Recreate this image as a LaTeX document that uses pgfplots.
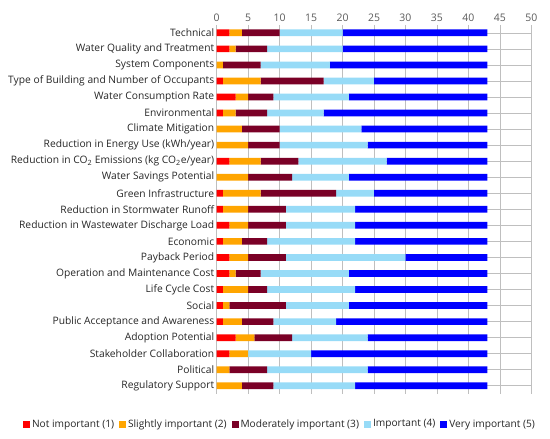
\documentclass[border=0pt]{standalone}
\usepackage{fontspec}
\setmainfont{Open Sans}
\usepackage{pgfplots}
\pgfplotsset{compat=1.18}
\usepackage{pgfplotstable}
\definecolor{cRed}{HTML}{FF0000}
\definecolor{cOrange}{HTML}{FFA500}
\definecolor{cMaroon}{HTML}{7A0026}
\definecolor{cLight}{HTML}{97DBF7}
\definecolor{cBlue}{HTML}{0000FF}
\definecolor{txt}{HTML}{262626}
\definecolor{ticktxt}{HTML}{595959}
\definecolor{grid}{HTML}{D9D9D9}
% idx  not slight moderate important very
\pgfplotstableread{
idx a b c d e
0  2 2 6 10 23
1  2 1 5 12 23
2  0 1 6 11 25
3  1 6 10 8 18
4  3 2 4 12 22
5  1 2 5 9 26
6  0 4 6 13 20
7  0 5 5 14 19
8  2 5 6 14 16
9  0 5 7 9 22
10 1 6 12 6 18
11 1 4 6 11 21
12 2 3 6 11 21
13 1 3 4 14 21
14 2 3 6 19 13
15 2 1 4 14 22
16 1 4 3 14 21
17 1 1 9 10 22
18 1 3 5 10 24
19 3 3 6 12 19
20 2 3 0 10 28
21 0 2 6 16 19
22 0 4 5 13 21
}\datatable
\begin{document}
\begin{tikzpicture}
\path (0,0) rectangle (550bp,439bp);
\begin{axis}[
  at={(216.7bp,45.2bp)}, anchor=south west,
  scale only axis, width=314.6bp, height=369bp,
  xbar stacked, bar width=6.7bp,
  xmin=0, xmax=50, xtick={0,5,...,50},
  ymin=-0.5, ymax=22.5, y dir=reverse,
  ytick={0,...,22},
  yticklabels={Technical,Water Quality and Treatment,System Components,Type of Building and Number of Occupants,Water Consumption Rate,Environmental,Climate Mitigation,Reduction in Energy Use (kWh/year),Reduction in CO\textsubscript{2} Emissions (kg CO\textsubscript{2}e/year),Water Savings Potential,Green Infrastructure,Reduction in Stormwater Runoff,Reduction in Wastewater Discharge Load,Economic,Payback Period,Operation and Maintenance Cost,Life Cycle Cost,Social,Public Acceptance and Awareness,Adoption Potential,Stakeholder Collaboration,Political,Regulatory Support},
  xticklabel pos=upper,
  axis line style={draw=none},
  tick style={draw=none},
  xmajorgrids, major grid style={grid, line width=0.6pt},
  yticklabel style={font=\fontsize{10.3}{11}\selectfont, text=txt, xshift=1pt},
  xticklabel style={font=\fontsize{10.5}{12}\selectfont, text=ticktxt},
  /pgf/number format/assume math mode=true,
  legend style={at={(0.201,-0.082)}, anchor=center, draw=none, fill=none,
    legend columns=5, font=\fontsize{10.2}{12}\selectfont, text=txt,
    inner xsep=0pt,
    /tikz/every even column/.append style={column sep=3pt},
    /tikz/every odd column/.append style={column sep=0pt}},
  legend image code/.code={\fill[#1] (0bp,-3.5bp) rectangle (7bp,3.5bp);},
  legend cell align=left,
]
\addplot[fill=cRed, draw=none] table[x=a, y=idx] {\datatable};
\addplot[fill=cOrange, draw=none] table[x=b, y=idx] {\datatable};
\addplot[fill=cMaroon, draw=none] table[x=c, y=idx] {\datatable};
\addplot[fill=cLight, draw=none] table[x=d, y=idx] {\datatable};
\addplot[fill=cBlue, draw=none] table[x=e, y=idx] {\datatable};
\legend{Not important (1),Slightly important (2),Moderately important (3),Important (4),Very important (5)}
\end{axis}
\end{tikzpicture}
\end{document}
